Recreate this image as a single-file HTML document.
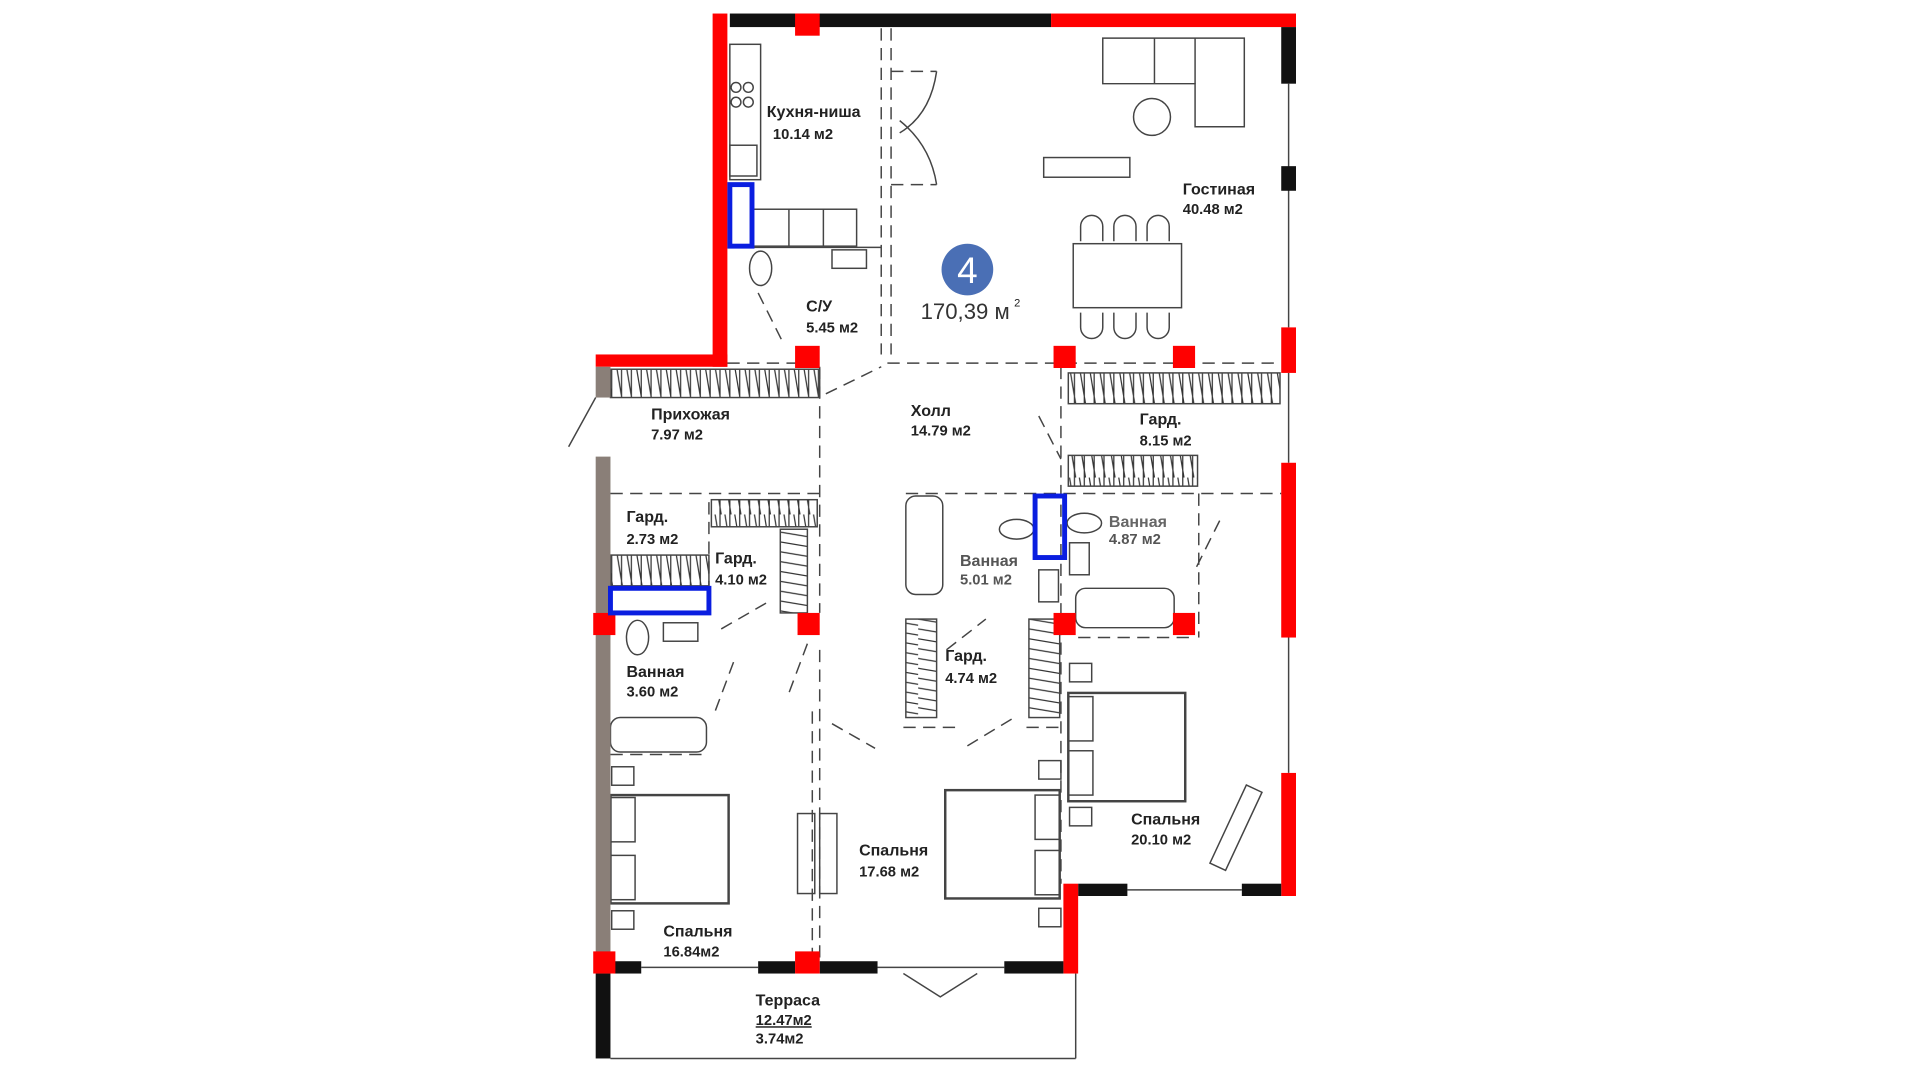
<!DOCTYPE html>
<html><head><meta charset="utf-8"><style>
html,body{margin:0;padding:0;background:#fff;}
svg{display:block}
text{font-family:"Liberation Sans","DejaVu Sans",sans-serif;font-weight:bold;fill:#222;font-size:13px}
</style></head><body>
<svg width="1920" height="1080" viewBox="0 0 1560 877.5" preserveAspectRatio="none" xmlns="http://www.w3.org/2000/svg">
<defs>
<pattern id="hz" width="8" height="30" patternUnits="userSpaceOnUse">
<path d="M1 0 L6 30 M5 0 L5 30" stroke="#333" stroke-width="1" fill="none"/>
</pattern>
<pattern id="vt" width="30" height="8" patternUnits="userSpaceOnUse">
<path d="M0 1 L30 6" stroke="#333" stroke-width="1" fill="none"/>
</pattern>
</defs>
<rect width="1560" height="877.5" fill="#fff"/>
<g transform="translate(-4,-2)">
<g fill="none" stroke="#444" stroke-width="1.2">
<g stroke-dasharray="10,6">
<line x1="595" y1="297" x2="675" y2="297"/>
<line x1="725" y1="297" x2="1045" y2="297"/>
<line x1="500" y1="403" x2="670" y2="403"/>
<line x1="740" y1="403" x2="1045" y2="403"/>
<line x1="670" y1="300" x2="670" y2="500"/>
<line x1="728" y1="25" x2="728" y2="290"/>
<line x1="720" y1="25" x2="720" y2="290"/>
<line x1="670" y1="530" x2="670" y2="780"/>
<line x1="664" y1="580" x2="664" y2="780"/>
<line x1="866" y1="300" x2="866" y2="720"/>
<line x1="580" y1="410" x2="580" y2="500"/>
<line x1="500" y1="615" x2="580" y2="615"/>
<line x1="880" y1="520" x2="975" y2="520"/>
<line x1="738" y1="593" x2="780" y2="593"/>
<line x1="838" y1="593" x2="866" y2="593"/>
<line x1="978" y1="403" x2="978" y2="520"/>
<line x1="600" y1="540" x2="585" y2="580"/>
<line x1="660" y1="525" x2="645" y2="565"/>
<line x1="995" y1="425" x2="975" y2="465"/>
<line x1="675" y1="322" x2="720" y2="300"/>
<line x1="848" y1="340" x2="866" y2="375"/>
<line x1="680" y1="590" x2="715" y2="610"/>
<line x1="790" y1="608" x2="828" y2="585"/>
<line x1="773" y1="530" x2="805" y2="505"/>
<line x1="590" y1="513" x2="630" y2="490"/>
<line x1="620" y1="240" x2="640" y2="280"/>
<line x1="728" y1="60" x2="765" y2="60"/>
<line x1="728" y1="152" x2="765" y2="152"/>
</g>
<path d="M765 60 Q760 95 735 110 M765 152 Q760 120 735 100"/>
<rect x="597" y="38" width="25" height="110"/>
<rect x="597" y="120" width="22" height="25"/>
<rect x="615" y="172" width="85" height="30"/>
<line x1="645" y1="172" x2="645" y2="202"/><line x1="673" y1="172" x2="673" y2="202"/>
<circle cx="602" cy="73" r="4"/><circle cx="612" cy="73" r="4"/><circle cx="602" cy="85" r="4"/><circle cx="612" cy="85" r="4"/>
<ellipse cx="622" cy="220" rx="9" ry="14"/><rect x="680" y="205" width="28" height="15"/>
<line x1="598" y1="203" x2="720" y2="203"/>
<path d="M900 33 H1015 V105 H975 V70 H900 Z"/><line x1="942" y1="33" x2="942" y2="70"/><line x1="975" y1="33" x2="975" y2="70"/>
<circle cx="940" cy="97" r="15"/>
<rect x="852" y="130" width="70" height="16"/>
<rect x="876" y="200" width="88" height="52"/>
<path d="M882 198 v-12 a9 9 0 0 1 18 0 v12 M909 198 v-12 a9 9 0 0 1 18 0 v12 M936 198 v-12 a9 9 0 0 1 18 0 v12"/>
<path d="M882 256 v12 a9 9 0 0 0 18 0 v-12 M909 256 v12 a9 9 0 0 0 18 0 v-12 M936 256 v12 a9 9 0 0 0 18 0 v-12"/>
<rect x="500" y="302" width="170" height="23" fill="url(#hz)"/>
<rect x="872" y="305" width="172" height="25" fill="url(#hz)"/>
<rect x="872" y="372" width="105" height="25" fill="url(#hz)"/>
<rect x="582" y="408" width="86" height="22" fill="url(#hz)"/>
<rect x="500" y="453" width="80" height="25" fill="url(#hz)"/>
<rect x="638" y="432" width="22" height="68" fill="url(#vt)"/>
<rect x="740" y="505" width="25" height="80" fill="url(#vt)"/>
<rect x="840" y="505" width="25" height="80" fill="url(#vt)"/>
<rect x="740" y="405" width="30" height="80" rx="8"/>
<rect x="500" y="585" width="78" height="28" rx="8"/>
<rect x="878" y="480" width="80" height="32" rx="8"/>
<ellipse cx="522" cy="520" rx="9" ry="14"/><rect x="543" y="508" width="28" height="15"/>
<ellipse cx="830" cy="432" rx="14" ry="8"/><ellipse cx="885" cy="427" rx="14" ry="8"/>
<rect x="873" y="443" width="16" height="26"/><rect x="848" y="465" width="16" height="26"/>
<rect x="500" y="648" width="96" height="88" stroke-width="2"/>
<rect x="500" y="650" width="20" height="36"/><rect x="500" y="697" width="20" height="36"/>
<rect x="772" y="644" width="93" height="88" stroke-width="2"/>
<rect x="845" y="648" width="20" height="36"/><rect x="845" y="693" width="20" height="36"/>
<rect x="872" y="565" width="95" height="88" stroke-width="2"/>
<rect x="872" y="568" width="20" height="36"/><rect x="872" y="612" width="20" height="36"/>
<rect x="501" y="625" width="18" height="15"/><rect x="501" y="742" width="18" height="15"/>
<rect x="848" y="620" width="18" height="15"/><rect x="848" y="740" width="18" height="15"/>
<rect x="873" y="541" width="18" height="15"/><rect x="873" y="658" width="18" height="15"/>
<rect x="652" y="663" width="14" height="65"/><rect x="670" y="663" width="14" height="65"/>
<rect x="1000" y="645" width="14" height="70" transform="rotate(25 1020 680)"/>
<line x1="1051" y1="70" x2="1051" y2="268"/><line x1="1051" y1="305" x2="1051" y2="378"/><line x1="1051" y1="520" x2="1051" y2="630"/>
<line x1="920" y1="725" x2="1013" y2="725"/>
<line x1="525" y1="788" x2="620" y2="788"/><line x1="717" y1="788" x2="820" y2="788"/>
<path d="M738 793 L768 812 L798 793"/>
<line x1="500" y1="862" x2="878" y2="862"/><line x1="878" y1="793" x2="878" y2="862"/>
<line x1="488" y1="325" x2="466" y2="365"/>
</g>
<g>
<rect x="597" y="13" width="261" height="11" fill="#111"/>
<rect x="858" y="13" width="199" height="11" fill="#f00"/>
<rect x="583" y="13" width="12" height="287" fill="#f00"/>
<rect x="488" y="290" width="107" height="10" fill="#f00"/>
<rect x="650" y="13" width="20" height="18" fill="#f00"/>
<rect x="1045" y="24" width="12" height="46" fill="#111"/>
<rect x="1045" y="137" width="12" height="20" fill="#111"/>
<rect x="1045" y="268" width="12" height="37" fill="#f00"/>
<rect x="1045" y="378" width="12" height="142" fill="#f00"/>
<rect x="1045" y="630" width="12" height="100" fill="#f00"/>
<rect x="880" y="720" width="40" height="10" fill="#111"/>
<rect x="1013" y="720" width="32" height="10" fill="#111"/>
<rect x="868" y="720" width="12" height="73" fill="#f00"/>
<rect x="503" y="783" width="22" height="10" fill="#111"/>
<rect x="620" y="783" width="30" height="10" fill="#111"/>
<rect x="670" y="783" width="47" height="10" fill="#111"/>
<rect x="820" y="783" width="48" height="10" fill="#111"/>
<rect x="488" y="793" width="12" height="69" fill="#111"/>
<rect x="488" y="300" width="12" height="25" fill="#8a7f78"/>
<rect x="488" y="373" width="12" height="410" fill="#8a7f78"/>
<g fill="#f00">
<rect x="486" y="775" width="18" height="18"/><rect x="650" y="775" width="20" height="18"/>
<rect x="650" y="283" width="20" height="18"/><rect x="860" y="283" width="18" height="18"/><rect x="957" y="283" width="18" height="18"/>
<rect x="486" y="500" width="18" height="18"/><rect x="652" y="500" width="18" height="18"/><rect x="860" y="500" width="18" height="18"/><rect x="957" y="500" width="18" height="18"/>
</g>
<g fill="none" stroke="#0a1ee0" stroke-width="4">
<rect x="597" y="152" width="18" height="50"/>
<rect x="845" y="405" width="24" height="50"/>
<rect x="500" y="480" width="80" height="20"/>
</g>
</g>
<circle cx="790" cy="221" r="21" fill="#4a6fb5"/>
<text x="790" y="232" text-anchor="middle" style="fill:#fff;font-size:30px;font-weight:normal">4</text>
<text x="752" y="261" style="font-size:18px;font-weight:normal;fill:#333">170,39 м</text>
<text x="828" y="251" style="font-size:9px;font-weight:normal">2</text>
<text x="627" y="97">Кухня-ниша</text><text x="632" y="115" style="font-size:12px">10.14 м2</text>
<text x="965" y="160">Гостиная</text><text x="965" y="176" style="font-size:12px">40.48 м2</text>
<text x="659" y="255">С/У</text><text x="659" y="272" style="font-size:12px">5.45 м2</text>
<text x="533" y="343">Прихожая</text><text x="533" y="359" style="font-size:12px">7.97 м2</text>
<text x="744" y="340">Холл</text><text x="744" y="356" style="font-size:12px">14.79 м2</text>
<text x="930" y="347">Гард.</text><text x="930" y="364" style="font-size:12px">8.15 м2</text>
<text x="513" y="426">Гард.</text><text x="513" y="444" style="font-size:12px">2.73 м2</text>
<text x="585" y="460">Гард.</text><text x="585" y="477" style="font-size:12px">4.10 м2</text>
<text x="905" y="430" style="fill:#666">Ванная</text><text x="905" y="444" style="font-size:12px;fill:#555">4.87 м2</text>
<text x="784" y="462" style="fill:#555">Ванная</text><text x="784" y="477" style="font-size:12px;fill:#555">5.01 м2</text>
<text x="772" y="539">Гард.</text><text x="772" y="557" style="font-size:12px">4.74 м2</text>
<text x="513" y="552">Ванная</text><text x="513" y="568" style="font-size:12px">3.60 м2</text>
<text x="923" y="672">Спальня</text><text x="923" y="688" style="font-size:12px">20.10 м2</text>
<text x="702" y="697">Спальня</text><text x="702" y="714" style="font-size:12px">17.68 м2</text>
<text x="543" y="763">Спальня</text><text x="543" y="779" style="font-size:12px">16.84м2</text>
<text x="618" y="819">Терраса</text><text x="618" y="835" style="font-size:12px;text-decoration:underline">12.47м2</text><text x="618" y="850" style="font-size:12px">3.74м2</text>
</g>
</svg>
</body></html>
